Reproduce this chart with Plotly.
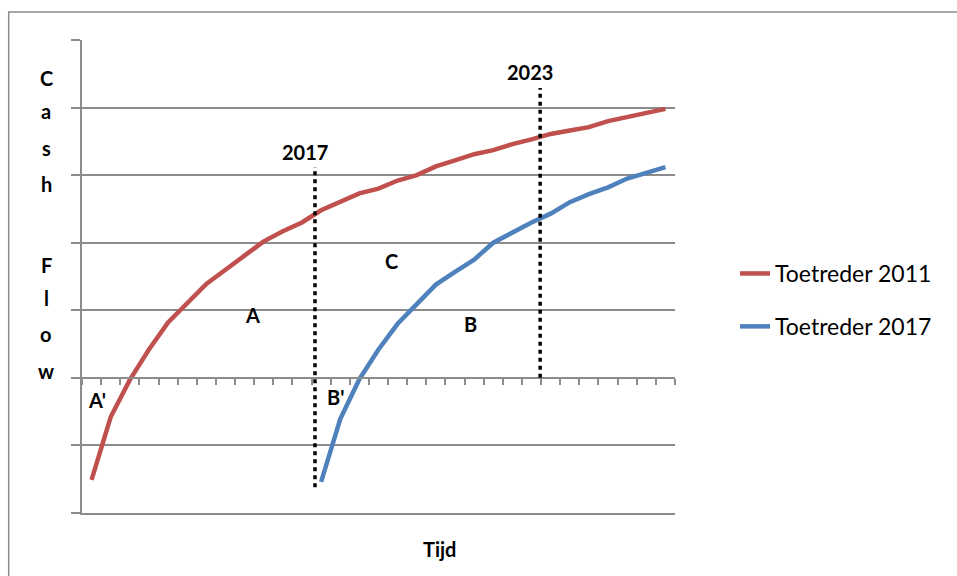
import plotly.graph_objects as go

# ---- data ----
periode = list(range(31))                      # category index (time steps)
toetreder_2011 = [-1.51, -0.58, -0.03, 0.42, 0.82, 1.10, 1.39, 1.60, 1.82, 2.02,
                  2.17, 2.30, 2.48, 2.61, 2.73, 2.80, 2.92, 3.00, 3.13, 3.22,
                  3.31, 3.37, 3.46, 3.53, 3.61, 3.66, 3.71, 3.80, 3.86, 3.92, 3.98]
start_2017 = 12
toetreder_2017 = [-1.54, -0.61, -0.02, 0.42, 0.80, 1.10, 1.38, 1.57, 1.75, 2.00,
                  2.15, 2.30, 2.43, 2.60, 2.72, 2.82, 2.95, 3.04, 3.12]
series_names = ["Toetreder 2011", "Toetreder 2017"]
markers_year = ["2017", "2023"]
marker_x = [11.68, 23.45]          # position of the dotted year lines (category units)
marker_top = [3.12, 4.29]
marker_bottom = [-1.62, 0.0]
area_labels = ["A", "C", "B", "A'", "B'"]
y_title_letters = ["C", "a", "s", "h", "F", "l", "o", "w"]

RED = "#C0504D"
BLUE = "#4F81BD"
GRID = "#8C8C8C"
FONT = "Lato"

W, H = 957, 576
OX, OY = 0, 0                      # page offset of the figure (body margin removed)
L, T = 82, 40
PW, PH = 593, 473
R, B = W - L - PW, H - T - PH


def px_x(X):
    """page pixel x -> paper x"""
    return (X - OX - L) / PW


def px_y(Y):
    """page pixel y -> paper y"""
    return (T + PH - (Y - OY)) / PH


fig = go.Figure()
fig.add_trace(go.Scatter(x=periode, y=toetreder_2011, mode="lines", name=series_names[0],
                         legendgroup="a", line=dict(color=RED, width=4.5), hoverinfo="skip"))
fig.add_trace(go.Scatter(x=periode[start_2017:start_2017 + len(toetreder_2017)], y=toetreder_2017,
                         mode="lines", name=series_names[1], legendgroup="b",
                         line=dict(color=BLUE, width=4.5), hoverinfo="skip"))
# invisible trace to carry the bottom axis line
fig.add_trace(go.Scatter(x=[periode[0]], y=[0], xaxis="x2", mode="markers",
                         marker=dict(opacity=0), showlegend=False, hoverinfo="skip"))

shapes = []
for xv, yt, yb in zip(marker_x, marker_top, marker_bottom):
    shapes.append(dict(type="line", xref="x", yref="y", x0=xv, x1=xv, y0=yb, y1=yt,
                       line=dict(color="black", width=3.5, dash="4px,4px")))
# outer chart border (continues beyond the right and bottom edges of the picture)
shapes.append(dict(type="rect", xref="paper", yref="paper", x0=px_x(8.7), x1=px_x(1100),
                   y0=px_y(12), y1=px_y(700), line=dict(color=GRID, width=1.5),
                   fillcolor="rgba(0,0,0,0)", layer="below"))

bold = dict(family=FONT, size=20, color="black", weight="bold")
annotations = []
year_pos = [(11.16, 3.34), (22.92, 4.53)]
for txt, (xv, yv) in zip(markers_year, year_pos):
    annotations.append(dict(text=txt, x=xv, y=yv, xref="x", yref="y", showarrow=False,
                            xanchor="center", yanchor="middle", font=bold))
label_pos = [(8.41, 0.93), (15.69, 1.73), (19.82, 0.80), (0.27, -0.33), (12.73, -0.28)]
for txt, (xv, yv) in zip(area_labels, label_pos):
    annotations.append(dict(text=txt, x=xv, y=yv, xref="x", yref="y", showarrow=False,
                            xanchor="center", yanchor="middle", font=bold))
letter_baselines = [85, 118, 155, 191, 272, 305, 341, 378]
for ch, bl in zip(y_title_letters, letter_baselines):
    annotations.append(dict(text=ch, x=px_x(46), y=px_y(bl - 7), xref="paper", yref="paper",
                            showarrow=False, xanchor="center", yanchor="middle", font=bold))
annotations.append(dict(text="Tijd", x=px_x(439), y=px_y(549), xref="paper", yref="paper",
                        showarrow=False, xanchor="center", yanchor="middle", font=bold))

fig.update_layout(
    width=W, height=H,
    margin=dict(l=L, r=R, t=T, b=B, pad=0),
    paper_bgcolor="white", plot_bgcolor="white",
    font=dict(family=FONT, color="black"),
    xaxis=dict(range=[-0.5, 30.5], anchor="free", position=2 / 7,
               showgrid=False, zeroline=False, showline=True, linecolor=GRID, linewidth=2,
               ticks="outside", ticklen=6, tickwidth=1.5, tickcolor=GRID,
               tickmode="array", tickvals=[i - 0.5 for i in range(32)],
               showticklabels=False),
    xaxis2=dict(range=[-0.5, 30.5], overlaying="x", anchor="y", side="bottom",
                showgrid=False, zeroline=False, showline=True, linecolor=GRID, linewidth=2,
                ticks="", showticklabels=False),
    yaxis=dict(range=[-2, 5], dtick=1, tick0=0, showgrid=True, gridcolor=GRID, gridwidth=1.5,
               zeroline=False, showline=True, linecolor=GRID, linewidth=2,
               ticks="outside", ticklen=9, tickwidth=1.5, tickcolor=GRID,
               showticklabels=False),
    legend=dict(x=px_x(735), y=px_y(252), xanchor="left", yanchor="top",
                traceorder="grouped", tracegroupgap=20,
                font=dict(family=FONT, size=23, color="black"),
                bgcolor="rgba(0,0,0,0)"),
    shapes=shapes,
    annotations=annotations,
    showlegend=True,
)

fig.write_html(
    "out.html",
    config={"displayModeBar": False},
    post_script="document.body.style.margin='0';document.body.style.overflow='hidden';",
)
